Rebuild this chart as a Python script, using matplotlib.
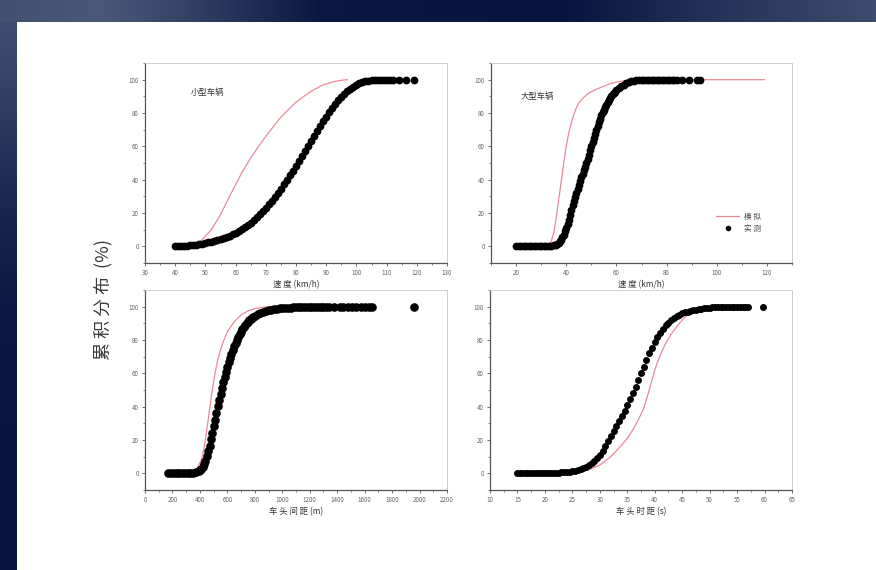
import numpy as np
import matplotlib
matplotlib.use("Agg")
import matplotlib.pyplot as plt
from matplotlib.lines import Line2D
from matplotlib.ticker import MultipleLocator

plt.rcParams['font.family'] = ['Noto Sans CJK SC', 'DejaVu Sans']

# ---------------- data ----------------
# top-left: small vehicles, speed (km/h)
tl_meas_x = list(range(40, 113)) + [114, 116.5, 119]
tl_meas_y = [0.0, 0.1, 0.2, 0.3, 0.4, 0.6, 0.8, 1.0, 1.3, 1.6,
             2.0, 2.4, 2.8, 3.2, 3.7, 4.3, 4.9, 5.6, 6.4, 7.2,
             8.1, 9.1, 10.2, 11.4, 12.7, 14.1, 15.7, 17.4, 19.2, 21.1,
             23.1, 25.2, 27.4, 29.7, 32.1, 34.6, 37.2, 39.8, 42.5, 45.3,
             48.1, 51.0, 54.0, 57.0, 60.0, 63.0, 66.0, 69.0, 72.0, 74.9,
             77.7, 80.4, 83.0, 85.4, 87.6, 89.6, 91.5, 93.1, 94.6, 95.8,
             96.9, 97.8, 98.5, 99.0, 99.4, 99.7, 99.8, 99.9, 100, 100,
             100, 100, 100, 100, 100, 100]
tl_model_x = [46, 48, 50, 52, 55, 58, 60, 62, 65, 68, 70, 73, 75, 78, 80, 83, 85, 88, 90, 93, 95, 97]
tl_model_y = [0.5, 2.5, 6, 10, 19, 30, 37, 44, 53, 61, 66, 73, 77.5, 83, 86.5, 90.5, 93, 96, 97.5, 99, 99.6, 100]

# top-right: large vehicles, speed (km/h)
tr_meas_x = [20, 21, 22, 23, 24, 25, 26, 27, 28, 29, 30, 31, 32, 33, 34, 35,
             36, 36.5, 37, 37.5, 38, 38.5, 39, 39.5, 40, 40.5, 41, 41.5, 42, 42.5,
             43, 43.5, 44, 44.5, 45, 45.5, 46, 46.5, 47, 47.5, 48, 48.5, 49, 49.5,
             50, 50.5, 51, 51.5, 52, 52.5, 53, 53.5, 54, 54.5, 55, 55.5, 56, 56.5,
             57, 57.5, 58, 58.5, 59, 59.5,
             60, 61, 62, 63, 64, 65, 66, 67, 68, 69, 70, 71, 72, 73, 74, 75, 76,
             77, 78, 79, 80, 81, 82, 83, 84, 86, 89, 92, 93.5]
tr_meas_y = [0, 0, 0, 0, 0, 0, 0, 0, 0.1, 0.1, 0.1, 0.2, 0.2, 0.3, 0.4, 0.6,
             1.0, 1.4, 2.0, 2.9, 4.0, 5.4, 7.0, 8.9, 11.0, 13.3, 16.0, 19.0, 22.0, 24.6,
             27.0, 29.5, 32.0, 34.5, 37.0, 39.3, 41.5, 43.5, 45.5, 47.7, 50.0, 52.5, 55.0, 57.5,
             60.0, 62.5, 65.0, 67.5, 70.0, 72.3, 74.5, 76.5, 78.5, 80.3, 82.0, 83.5, 85.0, 86.5,
             88.0, 89.2, 90.2, 91.1, 92.0, 92.8,
             93.5, 94.8, 96.0, 97.0, 97.8, 98.4, 98.9, 99.2, 99.5, 99.7, 99.8, 99.9, 99.9, 100, 100, 100, 100,
             100, 100, 100, 100, 100, 100, 100, 100, 100, 100, 100, 100]
tr_model_x = [20, 30, 33, 34, 35, 36, 37, 38, 39, 40, 41, 42, 43, 44, 45, 47, 49, 51, 54, 57, 60, 63, 66, 70, 80, 100, 119]
tr_model_y = [0, 0.2, 1, 3, 8, 17, 28, 39, 50, 60, 68, 74, 79, 83, 86, 89.5, 92, 93.5, 95.5, 97.3, 98.6, 99.3, 99.7, 100, 100, 100, 100]

# bottom-left: space headway (m)
bl_meas_x = [170, 190, 210, 230, 250, 270, 290, 310, 330, 350, 370, 390,
             400, 410, 420, 430, 440, 450, 460, 470, 480, 490, 500, 510, 520, 530,
             540, 550, 560, 570, 580, 590, 600, 610, 620, 630, 640, 650, 660, 670,
             680, 690, 700, 710, 720, 730, 740, 750, 760, 770, 780, 790, 800,
             820, 840, 860, 880, 900, 920, 940, 960, 980, 1000, 1020, 1040, 1060,
             1080, 1100, 1120, 1140, 1160, 1180, 1200, 1220, 1240, 1260, 1280, 1300,
             1320, 1340, 1380, 1420, 1440, 1480, 1510, 1540, 1570, 1600, 1630, 1655, 1957]
bl_meas_y = [0, 0, 0, 0, 0, 0, 0.1, 0.2, 0.3, 0.5, 0.8, 1.3,
             1.8, 2.6, 3.8, 5.5, 7.7, 10.3, 13.3, 16.7, 20.4, 24.3, 28.3, 32.3, 36.3, 40.2,
             44.0, 47.7, 51.2, 54.6, 57.9, 61.0, 63.9, 66.7, 69.3, 71.8, 74.1, 76.3, 78.3, 80.2,
             82.0, 83.6, 85.1, 86.5, 87.8, 89.0, 90.0, 91.0, 91.9, 92.7, 93.4, 94.1, 94.7,
             95.7, 96.5, 97.1, 97.6, 98.0, 98.3, 98.6, 98.8, 99.0, 99.2, 99.3, 99.4, 99.5,
             99.6, 99.7, 99.7, 99.8, 99.8, 99.9, 99.9, 99.9, 100, 100, 100, 100,
             100, 100, 100, 100, 100, 100, 100, 100, 100, 100, 100, 100, 100]
bl_model_x = [340, 380, 410, 430, 450, 470, 490, 510, 530, 550, 570, 600, 650, 700, 750, 800, 850, 900]
bl_model_y = [0, 3, 8, 15, 26, 38, 50, 60, 68, 74, 79, 85, 91, 95, 97.5, 98.8, 99.5, 100]

# bottom-right: time headway (s)
br_meas_x = [15, 15.5, 16, 16.5, 17, 17.5, 18, 18.5, 19, 19.5, 20, 20.5, 21, 21.5, 22, 22.5,
             23, 23.5, 24, 24.5, 25, 25.5, 26, 26.5, 27, 27.5, 28, 28.5, 29, 29.5,
             30, 30.5, 31, 31.5, 32, 32.5, 33, 33.5, 34, 34.5, 35, 35.5, 36, 36.5,
             37, 37.5, 38, 38.5, 39, 39.5, 40, 40.5, 41, 41.5, 42, 42.5, 43, 43.5,
             44, 44.5, 45, 45.5, 46, 46.5, 47, 47.5, 48, 48.5, 49, 49.5, 50, 50.5,
             51, 51.5, 52, 52.5, 53, 53.5, 54, 54.5, 55, 55.5, 56, 56.5, 57, 59.7]
br_meas_y = [0.0, 0.0, 0.0, 0.0, 0.0, 0.1, 0.1, 0.1, 0.1, 0.2, 0.2, 0.2, 0.3, 0.3, 0.4, 0.5,
             0.6, 0.7, 0.8, 1.0, 1.2, 1.5, 1.9, 2.4, 3.0, 3.8, 4.8, 6.0, 7.4, 9.0,
             11.0, 13.5, 16.5, 19.5, 22.5, 25.5, 28.5, 31.5, 34.5, 37.5, 41.0, 44.5, 48.0, 52.0,
             56.0, 60.0, 64.0, 68.0, 72.0, 75.5, 79.0, 82.0, 84.5, 86.8, 88.8, 90.5, 92.0, 93.2,
             94.3, 95.2, 96.0, 96.6, 97.1, 97.6, 98.0, 98.3, 98.6, 98.9, 99.1, 99.3, 99.5, 99.6,
             99.7, 99.8, 99.9, 99.9, 100, 100, 100, 100, 100, 100, 100, 100, 100, 100]
br_model_x = [15, 20, 25, 28, 30, 32, 34, 35, 36, 37, 38, 39, 40, 41, 42, 43, 44, 45, 46, 47, 48, 49, 50, 51]
br_model_y = [0, 0.2, 0.8, 2.2, 5, 10, 17, 21, 26, 32, 39, 50, 62, 71, 78, 83.5, 88, 92, 95, 97, 98.3, 99.2, 99.8, 100]

texts_in = ['小型车辆', '大型车辆']
xlabels = ['速 度 (km/h)', '速 度 (km/h)', '车 头 间 距 (m)', '车 头 时 距 (s)']
ylabel = '累 积 分 布  (%)'
legend_labels = ['模 拟', '实 测']
y_ticks = [0, 20, 40, 60, 80, 100]

# ---------------- figure ----------------
W, H = 876, 570
fig = plt.figure(figsize=(W / 100, H / 100), dpi=100)

# background: navy strips at top and left, white area
bg = fig.add_axes([0, 0, 1, 1])
bg.axis('off')
img = np.ones((H, W, 3))
navy = np.array([6, 20, 62]) / 255.0
light = np.array([86, 100, 130]) / 255.0
xs = np.arange(W)
wx = np.interp(xs, [0, 100, 180, 320, 560, 700, 876], [0.75, 0.85, 0.6, 0.05, 0.0, 0.35, 0.7])
img[:22, :, :] = navy + (light - navy) * wx[None, :, None]
ys = np.arange(H)
wy = np.interp(ys, [0, 80, 200, 320, 570], [0.75, 0.6, 0.25, 0.05, 0.0])
img[22:, :17, :] = (navy + (light - navy) * wy[:, None, None])[22:]
bg.imshow(img, extent=[0, W, H, 0], aspect='auto', interpolation='bilinear')
bg.set_xlim(0, W)
bg.set_ylim(H, 0)


def make_ax(l, r, t, b):
    return fig.add_axes([l / W, 1 - b / H, (r - l) / W, (b - t) / H])


axes = [make_ax(145, 447, 63, 263), make_ax(491, 792, 63, 263),
        make_ax(145, 447, 290, 490), make_ax(490, 792, 290, 490)]

data = [(tl_meas_x, tl_meas_y, tl_model_x, tl_model_y),
        (tr_meas_x, tr_meas_y, tr_model_x, tr_model_y),
        (bl_meas_x, bl_meas_y, bl_model_x, bl_model_y),
        (br_meas_x, br_meas_y, br_model_x, br_model_y)]
xlims = [(30, 130), (10, 130), (0, 2200), (10, 65)]
xmaj = [10, 20, 200, 5]
xmin = [5, 10, 100, 2.5]
msizes = [5.6, 5.6, 6.2, 5.0]

red = '#ee8a98'
for i, ax in enumerate(axes):
    mx, my, rx, ry = data[i]
    ax.plot(rx, ry, color=red, lw=0.9, zorder=2)
    ax.plot(mx, my, 'o', color='black', ms=msizes[i], mew=0, zorder=3)
    ax.set_xlim(*xlims[i])
    ax.set_ylim(-10, 110)
    ax.set_yticks(y_ticks)
    ax.xaxis.set_major_locator(MultipleLocator(xmaj[i]))
    ax.xaxis.set_minor_locator(MultipleLocator(xmin[i]))
    ax.yaxis.set_minor_locator(MultipleLocator(10))
    ax.tick_params(which='major', direction='out', length=2.5, width=0.6,
                   labelsize=4.5, labelcolor='#666666', color='#555555', pad=2)
    ax.tick_params(which='minor', direction='out', length=1.5, width=0.5, color='#555555')
    for s in ['left', 'bottom']:
        ax.spines[s].set_color('#555555')
        ax.spines[s].set_linewidth(0.9)
    for s in ['top', 'right']:
        ax.spines[s].set_color('#cfcfcf')
        ax.spines[s].set_linewidth(0.7)
    ax.set_xlabel(xlabels[i], fontsize=6, color='#333333', labelpad=2)
    ax.set_facecolor('white')

axes[0].text(0.15, 0.85, texts_in[0], transform=axes[0].transAxes, fontsize=6,
             color='#333333', ha='left', va='center')
axes[1].text(0.10, 0.83, texts_in[1], transform=axes[1].transAxes, fontsize=6,
             color='#333333', ha='left', va='center')

handles = [Line2D([0], [0], color=red, lw=0.9),
           Line2D([0], [0], marker='o', color='black', ls='none', ms=4, mew=0)]
axes[1].legend(handles, legend_labels, loc='center left', bbox_to_anchor=(0.735, 0.2),
               frameon=False, fontsize=5.5, handlelength=3.0, labelspacing=0.5,
               borderpad=0, handletextpad=0.6, labelcolor='#444444')

fig.text(103 / W, 1 - 300 / H, ylabel, rotation=90, ha='center', va='center',
         fontsize=13, color='#3a3a3a')

fig.savefig('out.png', dpi=100)
